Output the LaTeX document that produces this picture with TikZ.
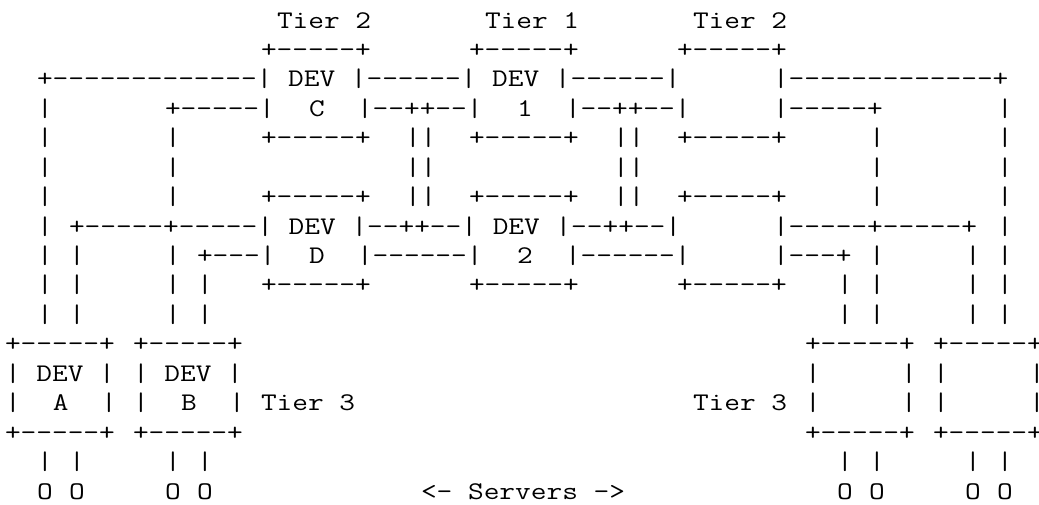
\documentclass[tikz,border=0pt]{standalone}
\usepackage{fontspec}
\setmonofont{Latin Modern Mono}[FakeStretch=1.2]
\tikzset{ch/.style={anchor=base west, inner sep=0pt, outer sep=0pt, text=black,
  font=\ttfamily\fontsize{12.698pt}{14.72pt}\selectfont}}
% \asc{row}{column}{text}
\newcommand\asc[3]{\node[ch] (r#1c#2) at ({2.5pt+#2*8pt},{-14pt-#1*14.72pt}) {#3};}
\begin{document}
\begin{tikzpicture}
\useasboundingbox (0,0) rectangle (519.5pt,-252pt);
% row 0
\asc{0}{17}{Tier~2}\asc{0}{30}{Tier~1}\asc{0}{43}{Tier~2}
% row 1
\asc{1}{16}{+-----+}\asc{1}{29}{+-----+}\asc{1}{42}{+-----+}
% row 2
\asc{2}{2}{+-------------|~DEV~|------|~DEV~|------|}\asc{2}{48}{|-------------+}
% row 3
\asc{3}{2}{|}\asc{3}{10}{+-----|}\asc{3}{19}{C}\asc{3}{22}{|--++--|}\asc{3}{32}{1}
\asc{3}{35}{|--++--|}\asc{3}{48}{|-----+}\asc{3}{62}{|}
% row 4
\asc{4}{2}{|}\asc{4}{10}{|}\asc{4}{16}{+-----+}\asc{4}{25}{||}\asc{4}{29}{+-----+}
\asc{4}{38}{||}\asc{4}{42}{+-----+}\asc{4}{54}{|}\asc{4}{62}{|}
% row 5
\asc{5}{2}{|}\asc{5}{10}{|}\asc{5}{25}{||}\asc{5}{38}{||}\asc{5}{54}{|}\asc{5}{62}{|}
% row 6
\asc{6}{2}{|}\asc{6}{10}{|}\asc{6}{16}{+-----+}\asc{6}{25}{||}\asc{6}{29}{+-----+}
\asc{6}{38}{||}\asc{6}{42}{+-----+}\asc{6}{54}{|}\asc{6}{62}{|}
% row 7
\asc{7}{2}{|}\asc{7}{4}{+-----+-----|~DEV~|--++--|~DEV~|--++--|}\asc{7}{48}{|-----+-----+}\asc{7}{62}{|}
% row 8
\asc{8}{2}{|}\asc{8}{4}{|}\asc{8}{10}{|}\asc{8}{12}{+---|}\asc{8}{19}{D}\asc{8}{22}{|------|}
\asc{8}{32}{2}\asc{8}{35}{|------|}\asc{8}{48}{|---+}\asc{8}{54}{|}\asc{8}{60}{|}\asc{8}{62}{|}
% row 9
\asc{9}{2}{|}\asc{9}{4}{|}\asc{9}{10}{|}\asc{9}{12}{|}\asc{9}{16}{+-----+}\asc{9}{29}{+-----+}
\asc{9}{42}{+-----+}\asc{9}{52}{|}\asc{9}{54}{|}\asc{9}{60}{|}\asc{9}{62}{|}
% row 10
\asc{10}{2}{|}\asc{10}{4}{|}\asc{10}{10}{|}\asc{10}{12}{|}
\asc{10}{52}{|}\asc{10}{54}{|}\asc{10}{60}{|}\asc{10}{62}{|}
% row 11
\asc{11}{0}{+-----+}\asc{11}{8}{+-----+}\asc{11}{50}{+-----+}\asc{11}{58}{+-----+}
% row 12
\asc{12}{0}{|~DEV~|}\asc{12}{8}{|~DEV~|}\asc{12}{50}{|}\asc{12}{56}{|}\asc{12}{58}{|}\asc{12}{64}{|}
% row 13
\asc{13}{0}{|}\asc{13}{3}{A}\asc{13}{6}{|}\asc{13}{8}{|}\asc{13}{11}{B}\asc{13}{14}{|}
\asc{13}{16}{Tier~3}\asc{13}{43}{Tier~3}\asc{13}{50}{|}\asc{13}{56}{|}\asc{13}{58}{|}\asc{13}{64}{|}
% row 14
\asc{14}{0}{+-----+}\asc{14}{8}{+-----+}\asc{14}{50}{+-----+}\asc{14}{58}{+-----+}
% row 15
\asc{15}{2}{|}\asc{15}{4}{|}\asc{15}{10}{|}\asc{15}{12}{|}
\asc{15}{52}{|}\asc{15}{54}{|}\asc{15}{60}{|}\asc{15}{62}{|}
% row 16
\asc{16}{2}{O}\asc{16}{4}{O}\asc{16}{10}{O}\asc{16}{12}{O}\asc{16}{26}{<-~Servers~->}
\asc{16}{52}{O}\asc{16}{54}{O}\asc{16}{60}{O}\asc{16}{62}{O}
\end{tikzpicture}
\end{document}
